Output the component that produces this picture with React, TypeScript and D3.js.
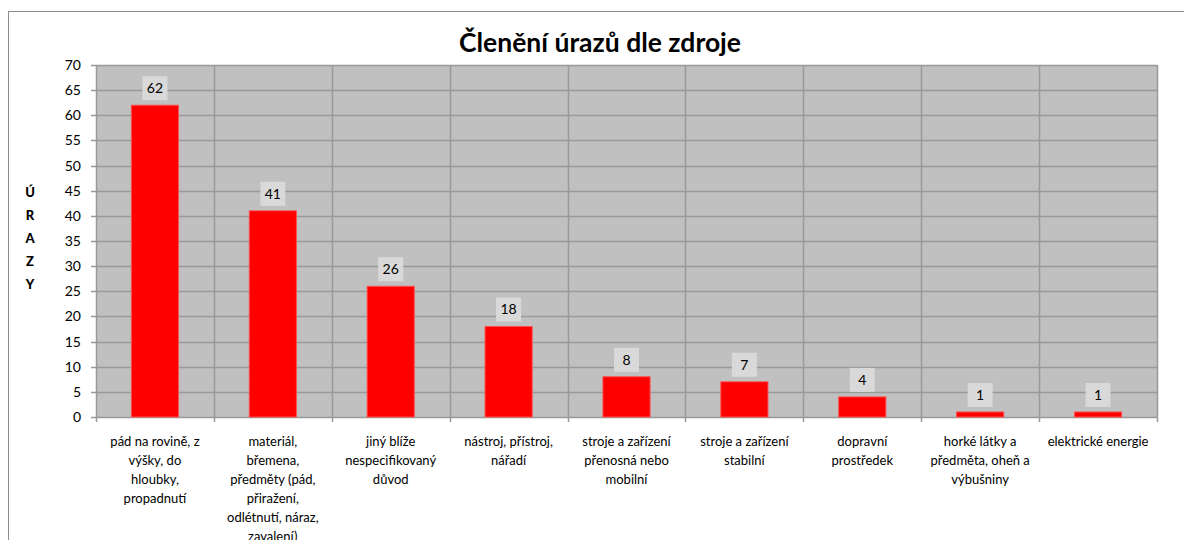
import React from "react";
import * as d3 from "d3";

const categories: string[][] = [
  ["pád na rovině, z", "výšky, do", "hloubky,", "propadnutí"],
  ["materiál,", "břemena,", "předměty (pád,", "přiražení,", "odlétnutí, náraz,", "zavalení)"],
  ["jiný blíže", "nespecifikovaný", "důvod"],
  ["nástroj, přístroj,", "nářadí"],
  ["stroje a zařízení", "přenosná nebo", "mobilní"],
  ["stroje a zařízení", "stabilní"],
  ["dopravní", "prostředek"],
  ["horké látky a", "předměta, oheň a", "výbušniny"],
  ["elektrické energie"],
];
const values: number[] = [62, 41, 26, 18, 8, 7, 4, 1, 1];
const yTicks: number[] = [0, 5, 10, 15, 20, 25, 30, 35, 40, 45, 50, 55, 60, 65, 70];
const title = "Členění úrazů dle zdroje";
const yTitle = ["Ú", "R", "A", "Z", "Y"];

const W = 1184;
const H = 540;
const left = 96;
const right = 1157;
const top = 65;
const bottom = 417;
const FONT = "Lato, 'Open Sans', sans-serif";

export default function App() {
  const idx = categories.map((_, i) => String(i));
  const x = d3.scaleBand<string>().domain(idx).range([left, right]).paddingInner(0).paddingOuter(0);
  const y = d3.scaleLinear().domain([0, 70]).range([bottom, top]);
  const bw = x.bandwidth();
  const barW = bw * 0.4;
  const gridColor = "#999999";

  return (
    <svg width={W} height={H} style={{ position: "absolute", left: 0, top: 0 }} fontFamily={FONT}>
      <rect x={0} y={0} width={W} height={H} fill="#ffffff" />
      <rect x={8.5} y={11.5} width={W + 10} height={H + 10} fill="none" stroke="#8c8c8c" strokeWidth={1} />
      <text x={600} y={52} textAnchor="middle" fontSize={26.5} fontWeight="bold" fill="#000">
        {title}
      </text>
      <rect x={left} y={top} width={right - left} height={bottom - top} fill="#c0c0c0" />
      {yTicks.map((t) => (
        <line key={"h" + t} x1={left - 5} x2={right} y1={Math.round(y(t)) + 0.5} y2={Math.round(y(t)) + 0.5} stroke={gridColor} strokeWidth={1.5} />
      ))}
      {idx.map((d) => (
        <line key={"v" + d} x1={Math.round(x(d)!) + 0.5} x2={Math.round(x(d)!) + 0.5} y1={top} y2={bottom + 5} stroke={gridColor} strokeWidth={1.5} />
      ))}
      <line x1={right + 0.5} x2={right + 0.5} y1={top} y2={bottom + 5} stroke={gridColor} strokeWidth={1.5} />
      {values.map((v, i) => {
        const cx = x(String(i))! + bw / 2;
        return (
          <rect key={"b" + i} x={cx - barW / 2} y={y(v)} width={barW} height={bottom - y(v)} fill="#ff0000" stroke="#ff5050" strokeWidth={1} />
        );
      })}
      {values.map((v, i) => {
        const cx = x(String(i))! + bw / 2;
        const by = y(v);
        return (
          <g key={"l" + i}>
            <rect x={cx - 12.5} y={by - 29} width={25} height={24} fill="#d9d9d9" />
            <text x={cx} y={by - 12} textAnchor="middle" fontSize={14} fill="#000">
              {v}
            </text>
          </g>
        );
      })}
      {yTicks.map((t) => (
        <text key={"yt" + t} x={81} y={y(t) + 5} textAnchor="end" fontSize={14} fill="#000">
          {t}
        </text>
      ))}
      {yTitle.map((c, i) => (
        <text key={"ytl" + i} x={30} y={197 + i * 23} textAnchor="middle" fontSize={13} fontWeight="900" fill="#000">
          {c}
        </text>
      ))}
      {categories.map((lines, i) => {
        const cx = x(String(i))! + bw / 2;
        return (
          <text key={"c" + i} textAnchor="middle" fontSize={13} fill="#000">
            {lines.map((ln, j) => (
              <tspan key={j} x={cx} y={446 + j * 19}>
                {ln}
              </tspan>
            ))}
          </text>
        );
      })}
    </svg>
  );
}
